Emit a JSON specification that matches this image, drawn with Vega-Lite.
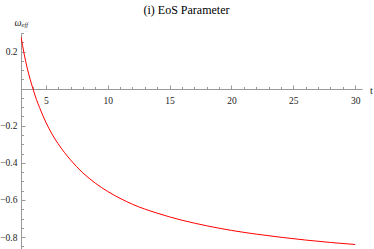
{
  "$schema": "https://vega.github.io/schema/vega-lite/v6.json",
  "width": 341,
  "height": 218,
  "autosize": {"type": "none"},
  "padding": {"left": 21, "top": 33, "right": 12, "bottom": 0},
  "title": {"text": "(i) EoS Parameter", "frame": "group", "anchor": "middle", "dx": -5, "offset": 0, "font": "Liberation Serif", "fontSize": 12, "fontWeight": "normal", "color": "#000000"},
  "data": {"values": [
    {"t": 3, "w": 0.280},
    {"t": 3.25, "w": 0.188},
    {"t": 3.5, "w": 0.111},
    {"t": 3.75, "w": 0.048},
    {"t": 4, "w": -0.008},
    {"t": 4.25, "w": -0.059},
    {"t": 4.5, "w": -0.102},
    {"t": 5, "w": -0.18},
    {"t": 5.5, "w": -0.244},
    {"t": 6, "w": -0.297},
    {"t": 6.5, "w": -0.343},
    {"t": 7, "w": -0.384},
    {"t": 7.5, "w": -0.421},
    {"t": 8, "w": -0.454},
    {"t": 9, "w": -0.509},
    {"t": 10, "w": -0.554},
    {"t": 11, "w": -0.591},
    {"t": 12, "w": -0.623},
    {"t": 14, "w": -0.671},
    {"t": 16, "w": -0.709},
    {"t": 18, "w": -0.739},
    {"t": 20, "w": -0.764},
    {"t": 22, "w": -0.784},
    {"t": 24, "w": -0.801},
    {"t": 26, "w": -0.816},
    {"t": 28, "w": -0.829},
    {"t": 30, "w": -0.840}
  ]},
  "layer": [
    {
      "mark": {"type": "line", "color": "#ff0000", "strokeWidth": 1, "interpolate": "monotone", "clip": true},
      "encoding": {
        "x": {"field": "t", "type": "quantitative",
          "scale": {"domain": [3, 30.55], "nice": false, "zero": false},
          "axis": {"orient": "bottom", "offset": -162, "values": [5, 10, 15, 20, 25, 30], "format": "d", "tickSize": -4, "labelPadding": 10, "labelFlush": false, "labelOverlap": false,
            "title": "t", "titleX": 350, "titleY": 1, "titleBaseline": "middle", "titleAlign": "center", "titleFontSize": 10}},
        "y": {"field": "w", "type": "quantitative",
          "scale": {"domain": [-0.875, 0.3], "nice": false, "zero": false},
          "axis": {"orient": "left", "values": [-0.8, -0.6, -0.4, -0.2, 0.2], "format": ".1f", "tickSize": -4, "labelPadding": 8, "labelFlush": false, "labelOverlap": false,
            "title": "ω", "titleAngle": 0, "titleAlign": "right", "titleBaseline": "alphabetic", "titleX": 0, "titleY": -8, "titleFontSize": 10, "titleFontStyle": "italic"}}
      }
    },
    {
      "mark": {"type": "line", "opacity": 0},
      "encoding": {
        "x": {"field": "t", "type": "quantitative",
          "axis": {"orient": "bottom", "offset": -162, "values": [4, 6, 7, 8, 9, 11, 12, 13, 14, 16, 17, 18, 19, 21, 22, 23, 24, 26, 27, 28, 29], "tickSize": -2.5, "labels": false, "domain": false, "title": null}},
        "y": {"field": "w", "type": "quantitative",
          "axis": {"orient": "left", "values": [-0.85, -0.75, -0.7, -0.65, -0.55, -0.5, -0.45, -0.35, -0.3, -0.25, -0.15, -0.1, -0.05, 0.05, 0.1, 0.15, 0.25, 0.3], "tickSize": -2.5, "labels": false, "domain": false,
            "title": "eff", "titleAngle": 0, "titleAlign": "left", "titleBaseline": "alphabetic", "titleX": 0, "titleY": -7, "titleFontSize": 6.5, "titleFontStyle": "italic"}}
      }
    }
  ],
  "resolve": {"axis": {"x": "independent", "y": "independent"}},
  "config": {
    "view": {"stroke": null},
    "axis": {"grid": false, "domainColor": "#999999", "tickColor": "#999999", "labelFont": "Liberation Serif", "labelFontSize": 9.5, "labelColor": "#222222", "titleFont": "Liberation Serif", "titleFontWeight": "normal", "titleColor": "#222222"}
  }
}
